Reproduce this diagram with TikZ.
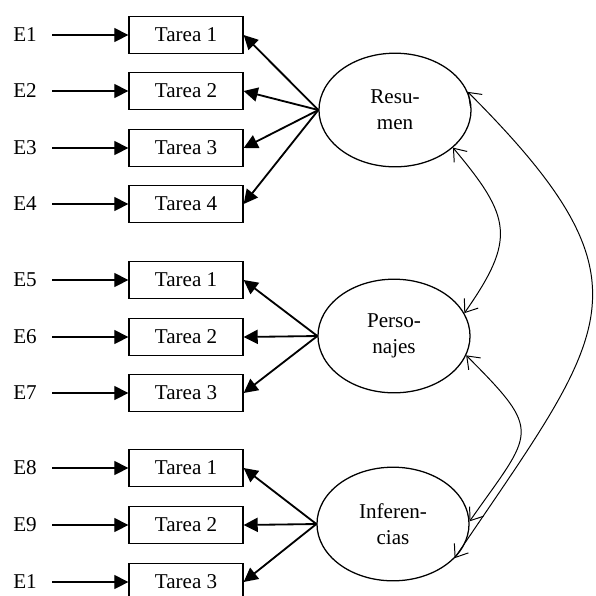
\documentclass[tikz,border=0pt]{standalone}
\usepackage{fontspec}
\setmainfont{Liberation Serif}
\usetikzlibrary{positioning,shapes.geometric,arrows.meta}

\begin{document}
\begin{tikzpicture}[
x=0.025cm, y=-0.025cm,
every node/.style={font=\fontsize{15}{18.5}\selectfont},
tarea/.style={
  draw,
  rectangle,
  line width=0.9pt,
  minimum width=2.85cm,
  minimum height=0.93cm,
  inner sep=0pt},
factor/.style={
  draw,
  ellipse,
  line width=0.9pt,
  minimum width=3.8cm,
  minimum height=2.84cm,
  align=center,
  inner sep=0pt},
err/.style={anchor=west, inner sep=0pt},
errarrow/.style={-{Triangle[length=10pt,width=10pt]}, line width=0.9pt, shorten <=11pt},
carga/.style={-{Triangle[length=10pt,width=10pt]}, line width=1.3pt},
cov/.style={{Straight Barb[length=8pt,width=12pt]}-{Straight Barb[length=8pt,width=12pt]}, line width=0.7pt}
]
\clip (0,0) rectangle (596,595);
% tareas y errores
\foreach \i/\y/\e/\t in {1/35/E1/1, 2/91/E2/2, 3/148/E3/3, 4/204/E4/4,
  5/280/E5/1, 6/337/E6/2, 7/393/E7/3,
  8/468/E8/1, 9/525/E9/2, 10/582/E1/3}
{
  \node[tarea] (t\i) at (186,\y) {Tarea \t};
  \node[err] (e\i) at (13,\y) {\e};
  \draw[errarrow] (e\i) -- (t\i.west);
}
% factores
\node[factor] (res) at (395,110) {Resu-\\men};
\node[factor] (per) at (394,336) {Perso-\\najes};
\node[factor] (inf) at (393,524) {Inferen-\\cias};
\foreach \t in {1,2,3,4}
  \draw[carga] (res.west) -- (t\t.east);
\foreach \t in {5,6,7}
  \draw[carga] (per.west) -- (t\t.east);
\foreach \t in {8,9,10}
  \draw[carga] (inf.west) -- (t\t.east);
% covarianzas
\draw[cov] (res.-33) to[out=-50,in=55,looseness=1.4] (per.18);
\draw[cov] (per.-15) to[out=-45,in=55,looseness=1.7] (inf.2);
\draw[cov] (res.14) to[out=-45,in=56,looseness=1.5] (inf.-29);
\end{tikzpicture}
\end{document}
